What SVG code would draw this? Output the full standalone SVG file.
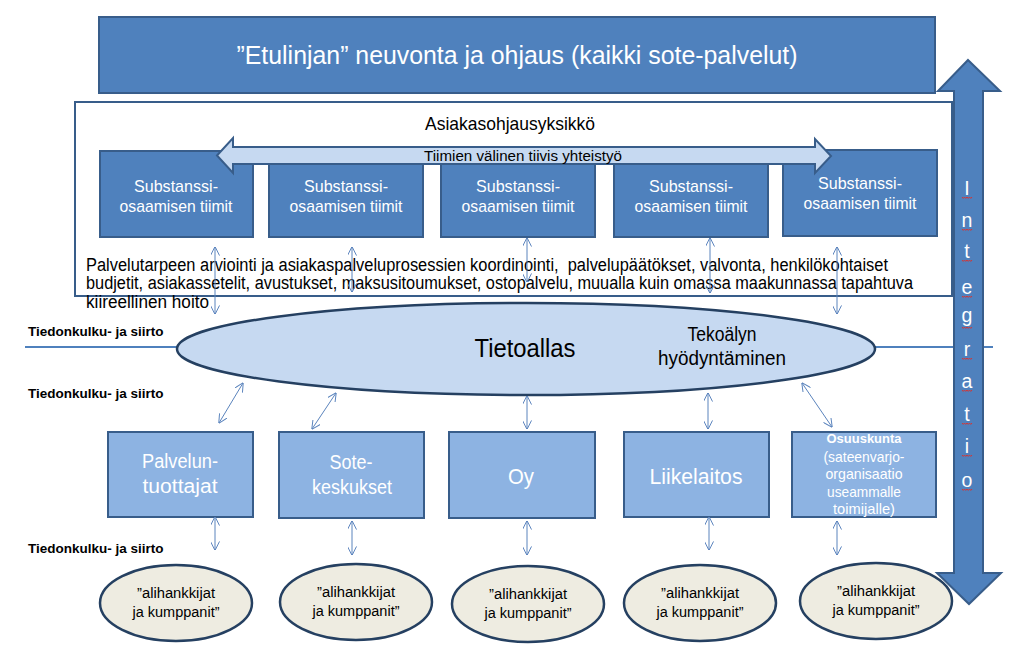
<svg xmlns="http://www.w3.org/2000/svg" width="1024" height="660" viewBox="0 0 1024 660">
<style>
text{font-family:"Liberation Sans",Arial,sans-serif}
.dark{fill:#4f81bd;stroke:#385d8a;stroke-width:2}
.light{fill:#8db3e2;stroke:#385d8a;stroke-width:2}
.wt{fill:#ffffff;text-anchor:middle}
.bt{fill:#000000}
.lab{font-weight:bold;font-size:13.5px;fill:#000}
.oval{fill:#eeece1;stroke:#254061;stroke-width:2.5}
.ot{font-size:15.5px;text-anchor:middle;fill:#000}
.st{font-size:17px}
.conn{stroke:#5b84bd;stroke-width:1;fill:none;marker-start:url(#ah);marker-end:url(#ah)}
.sq{fill:none;stroke:#e0302a;stroke-width:0.9}
</style>
<defs>
<marker id="ah" viewBox="0 0 10 10" refX="9.5" refY="5" markerWidth="9" markerHeight="9" markerUnits="userSpaceOnUse" orient="auto-start-reverse">
<path d="M0,0 L10,5 L0,10" fill="none" stroke="#5b84bd" stroke-width="1.1"/>
</marker>
<path id="sqz" d="M-5,0 l1.25,1.4 l1.25,-1.4 l1.25,1.4 l1.25,-1.4 l1.25,1.4 l1.25,-1.4 l1.25,1.4 l1.25,-1.4"/>
</defs>

<line x1="25" y1="347" x2="993" y2="347" stroke="#4f81bd" stroke-width="2"/>

<g id="banner">
<rect x="99" y="17" width="836" height="76" class="dark"/>
<text x="517" y="64" class="wt" font-size="26.5" textLength="561" lengthAdjust="spacingAndGlyphs">”Etulinjan” neuvonta ja ohjaus (kaikki sote-palvelut)</text>
</g>

<g id="asiakasohjausyksikko">
<rect x="75" y="102" width="877" height="194" fill="#ffffff" stroke="#385d8a" stroke-width="2"/>
<text x="510" y="130" font-size="18.5" text-anchor="middle" class="bt" textLength="170" lengthAdjust="spacingAndGlyphs">Asiakasohjausyksikkö</text>
</g>

<g id="team1"><rect x="100" y="151" width="153" height="86" class="dark"/>
<text x="176" y="192" class="wt st" textLength="84" lengthAdjust="spacingAndGlyphs">Substanssi-</text>
<text x="176" y="212" class="wt st" textLength="113" lengthAdjust="spacingAndGlyphs">osaamisen tiimit</text></g>
<g id="team2"><rect x="269" y="151" width="154" height="86" class="dark"/>
<text x="346" y="192" class="wt st" textLength="84" lengthAdjust="spacingAndGlyphs">Substanssi-</text>
<text x="346" y="212" class="wt st" textLength="113" lengthAdjust="spacingAndGlyphs">osaamisen tiimit</text></g>
<g id="team3"><rect x="441" y="151" width="154" height="86" class="dark"/>
<text x="518" y="192" class="wt st" textLength="84" lengthAdjust="spacingAndGlyphs">Substanssi-</text>
<text x="518" y="212" class="wt st" textLength="113" lengthAdjust="spacingAndGlyphs">osaamisen tiimit</text></g>
<g id="team4"><rect x="614" y="151" width="154" height="86" class="dark"/>
<text x="691" y="192" class="wt st" textLength="84" lengthAdjust="spacingAndGlyphs">Substanssi-</text>
<text x="691" y="212" class="wt st" textLength="113" lengthAdjust="spacingAndGlyphs">osaamisen tiimit</text></g>
<g id="team5"><rect x="783" y="150" width="154" height="86" class="dark"/>
<text x="860" y="189" class="wt st" textLength="84" lengthAdjust="spacingAndGlyphs">Substanssi-</text>
<text x="860" y="209" class="wt st" textLength="113" lengthAdjust="spacingAndGlyphs">osaamisen tiimit</text></g>

<g id="yhteistyo">
<polygon points="217,155.5 233,138 233,147 815,147 815,139 831,156 815,173 815,164 233,164 233,173" fill="#c6d9f1" stroke="#385d8a" stroke-width="2" stroke-linejoin="miter"/>
<text x="523" y="161" font-size="14" text-anchor="middle" class="bt" textLength="198" lengthAdjust="spacingAndGlyphs">Tiimien välinen tiivis yhteistyö</text>
</g>

<g id="kuvaus" font-size="18" class="bt">
<text x="86" y="271" textLength="802" lengthAdjust="spacingAndGlyphs" style="white-space:pre">Palvelutarpeen arviointi ja asiakaspalveluprosessien koordinointi,  palvelupäätökset, valvonta, henkilökohtaiset</text>
<text x="86" y="289" textLength="827" lengthAdjust="spacingAndGlyphs">budjetit, asiakassetelit, avustukset, maksusitoumukset, ostopalvelu, muualla kuin omassa maakunnassa tapahtuva</text>
<text x="86" y="308" textLength="123" lengthAdjust="spacingAndGlyphs">kiireellinen hoito</text>
</g>

<g id="tietoallas">
<ellipse cx="526" cy="349" rx="349" ry="46" fill="#c6d9f1" stroke="#254061" stroke-width="2.5"/>
<text x="525" y="357" font-size="26" text-anchor="middle" class="bt" textLength="101" lengthAdjust="spacingAndGlyphs">Tietoallas</text>
<text x="722" y="341" font-size="19.5" text-anchor="middle" class="bt" textLength="69" lengthAdjust="spacingAndGlyphs">Tekoälyn</text>
<text x="722" y="365" font-size="19.5" text-anchor="middle" class="bt" textLength="128" lengthAdjust="spacingAndGlyphs">hyödyntäminen</text>
</g>

<g id="labels">
<text x="28" y="336" class="lab">Tiedonkulku- ja siirto</text>
<text x="28" y="398" class="lab">Tiedonkulku- ja siirto</text>
<text x="28" y="553" class="lab">Tiedonkulku- ja siirto</text>
</g>

<g id="palveluntuottajat"><rect x="108" y="432" width="145" height="85" class="light"/>
<text x="180" y="468" class="wt" font-size="20" textLength="76" lengthAdjust="spacingAndGlyphs">Palvelun-</text>
<text x="180" y="493" class="wt" font-size="20" textLength="75" lengthAdjust="spacingAndGlyphs">tuottajat</text></g>
<g id="sotekeskukset"><rect x="279" y="432" width="145" height="86" class="light"/>
<text x="351" y="469" class="wt" font-size="20" textLength="43" lengthAdjust="spacingAndGlyphs">Sote-</text>
<text x="352" y="494" class="wt" font-size="20" textLength="80" lengthAdjust="spacingAndGlyphs">keskukset</text></g>
<g id="oy"><rect x="449" y="432" width="146" height="86" class="light"/>
<text x="521" y="484" class="wt" font-size="21.5" textLength="26" lengthAdjust="spacingAndGlyphs">Oy</text></g>
<g id="liikelaitos"><rect x="624" y="432" width="145" height="85" class="light"/>
<text x="696" y="484" class="wt" font-size="21.5" textLength="93" lengthAdjust="spacingAndGlyphs">Liikelaitos</text></g>
<g id="osuuskunta"><rect x="792" y="432" width="144" height="85" class="light"/>
<text x="864" y="443" class="wt" font-size="13.5" font-weight="bold" textLength="75" lengthAdjust="spacingAndGlyphs">Osuuskunta</text>
<text x="864" y="462" class="wt" font-size="14.5" fill="#f2f2f2" textLength="81" lengthAdjust="spacingAndGlyphs">(sateenvarjo-</text>
<text x="864" y="479" class="wt" font-size="14.5" textLength="77" lengthAdjust="spacingAndGlyphs">organisaatio</text>
<text x="864" y="497" class="wt" font-size="14.5" textLength="74" lengthAdjust="spacingAndGlyphs">useammalle</text>
<text x="864" y="514" class="wt" font-size="14.5" textLength="62" lengthAdjust="spacingAndGlyphs">toimijalle)</text></g>

<g id="kumppanit1"><ellipse cx="176" cy="603" rx="76" ry="38" class="oval"/>
<text x="176" y="598" class="ot" textLength="78" lengthAdjust="spacingAndGlyphs">”alihankkijat</text>
<text x="176" y="617" class="ot" textLength="87" lengthAdjust="spacingAndGlyphs">ja kumppanit”</text></g>
<g id="kumppanit2"><ellipse cx="356" cy="602" rx="76" ry="38" class="oval"/>
<text x="356" y="597" class="ot" textLength="78" lengthAdjust="spacingAndGlyphs">”alihankkijat</text>
<text x="356" y="616" class="ot" textLength="87" lengthAdjust="spacingAndGlyphs">ja kumppanit”</text></g>
<g id="kumppanit3"><ellipse cx="528" cy="604" rx="76" ry="38" class="oval"/>
<text x="528" y="599" class="ot" textLength="78" lengthAdjust="spacingAndGlyphs">”alihankkijat</text>
<text x="528" y="618" class="ot" textLength="87" lengthAdjust="spacingAndGlyphs">ja kumppanit”</text></g>
<g id="kumppanit4"><ellipse cx="700" cy="603" rx="76" ry="38" class="oval"/>
<text x="700" y="598" class="ot" textLength="78" lengthAdjust="spacingAndGlyphs">”alihankkijat</text>
<text x="700" y="617" class="ot" textLength="87" lengthAdjust="spacingAndGlyphs">ja kumppanit”</text></g>
<g id="kumppanit5"><ellipse cx="876" cy="601" rx="76" ry="38" class="oval"/>
<text x="876" y="596" class="ot" textLength="78" lengthAdjust="spacingAndGlyphs">”alihankkijat</text>
<text x="876" y="615" class="ot" textLength="87" lengthAdjust="spacingAndGlyphs">ja kumppanit”</text></g>

<g id="connectors">
<line x1="215" y1="247" x2="215" y2="314" class="conn"/>
<line x1="352" y1="247" x2="352" y2="292" class="conn"/>
<line x1="527" y1="238" x2="527" y2="282" class="conn"/>
<line x1="710" y1="238" x2="710" y2="293" class="conn"/>
<line x1="837" y1="247" x2="837" y2="314" class="conn"/>
<line x1="243" y1="383" x2="219" y2="423" class="conn"/>
<line x1="336" y1="393" x2="312" y2="429" class="conn"/>
<line x1="527" y1="396" x2="527" y2="429" class="conn"/>
<line x1="708" y1="393" x2="708" y2="429" class="conn"/>
<line x1="802" y1="383" x2="832" y2="427" class="conn"/>
<line x1="215" y1="517" x2="215" y2="550" class="conn"/>
<line x1="352" y1="521" x2="352" y2="555" class="conn"/>
<line x1="527" y1="521" x2="527" y2="555" class="conn"/>
<line x1="709" y1="517" x2="709" y2="550" class="conn"/>
<line x1="837" y1="521" x2="837" y2="555" class="conn"/>
</g>

<g id="integratio">
<polygon points="968,60 1000,91 983,91 983,573 1001,573 969,604 937,573 954,573 954,91 938,91" fill="#4f81bd" stroke="#385d8a" stroke-width="2"/>
<g font-size="19.5" class="wt">
<text x="967" y="195">I</text>
<text x="967" y="227">n</text>
<text x="967" y="258">t</text>
<text x="967" y="294">e</text>
<text x="967" y="322">g</text>
<text x="967" y="356">r</text>
<text x="967" y="388">a</text>
<text x="967" y="421">t</text>
<text x="967" y="453">i</text>
<text x="967" y="487">o</text>
</g>
<g class="sq">
<use href="#sqz" x="967" y="197"/>
<use href="#sqz" x="967" y="229"/>
<use href="#sqz" x="967" y="260"/>
<use href="#sqz" x="967" y="296"/>
<use href="#sqz" x="967" y="327"/>
<use href="#sqz" x="967" y="358"/>
<use href="#sqz" x="967" y="390"/>
<use href="#sqz" x="967" y="423"/>
<use href="#sqz" x="967" y="455"/>
<use href="#sqz" x="967" y="489"/>
</g>
</g>
</svg>
